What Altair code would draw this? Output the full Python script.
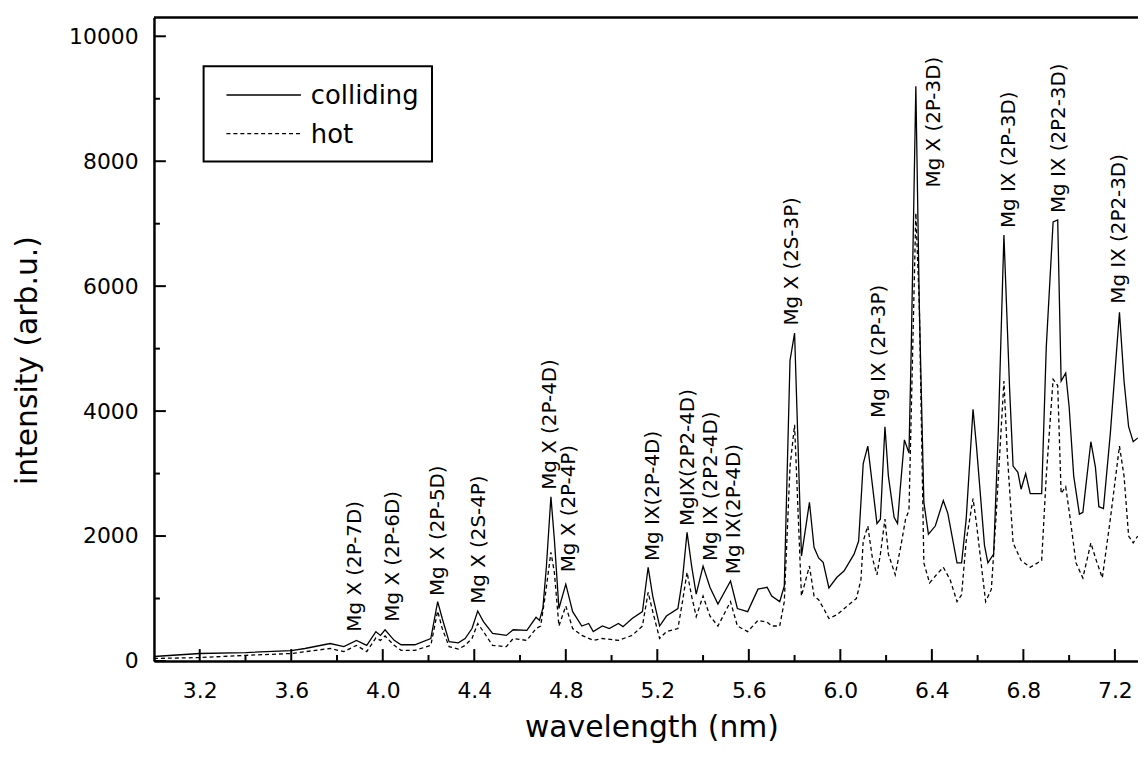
import altair as alt
import pandas as pd

# ---------------- data ----------------
wl_colliding = [3.00, 3.20, 3.40, 3.60, 3.66, 3.77, 3.83, 3.885, 3.93, 3.97, 3.99, 4.01, 4.05, 4.08,
                4.14, 4.21, 4.24, 4.26, 4.29, 4.33, 4.36, 4.39, 4.415, 4.44, 4.48, 4.54, 4.57, 4.63,
                4.67, 4.685, 4.70, 4.715, 4.735, 4.75, 4.77, 4.80, 4.83, 4.87, 4.90, 4.92, 4.96, 4.99,
                5.03, 5.05, 5.09, 5.135, 5.16, 5.18, 5.21, 5.24, 5.29, 5.31, 5.33, 5.35, 5.37, 5.40,
                5.43, 5.465, 5.52, 5.55, 5.595, 5.64, 5.68, 5.70, 5.735, 5.755, 5.78, 5.80, 5.83,
                5.865, 5.885, 5.905, 5.925, 5.95, 5.985, 6.016, 6.06, 6.08, 6.10, 6.12, 6.14, 6.16,
                6.175, 6.195, 6.21, 6.235, 6.25, 6.26, 6.28, 6.30, 6.31, 6.33, 6.345, 6.365, 6.385,
                6.415, 6.45, 6.47, 6.51, 6.53, 6.55, 6.58, 6.595, 6.63, 6.645, 6.67, 6.69, 6.715,
                6.74, 6.755, 6.776, 6.79, 6.81, 6.83, 6.88, 6.90, 6.93, 6.95, 6.965, 6.985, 7.00,
                7.02, 7.045, 7.06, 7.095, 7.115, 7.13, 7.15, 7.18, 7.22, 7.24, 7.26, 7.28, 7.30]
colliding = [72, 120, 135, 167, 200, 280, 230, 330, 250, 470, 410, 500, 330, 260,
             260, 360, 950, 680, 310, 290, 360, 520, 800, 630, 440, 410, 500, 490,
             700, 650, 850, 1500, 2630, 1950, 840, 1230, 790, 560, 600, 470, 560, 520,
             600, 550, 680, 790, 1500, 1040, 560, 720, 840, 1310, 2060, 1520, 1070, 1520,
             1180, 910, 1280, 840, 790, 1150, 1180, 1040, 950, 1200, 4810, 5250, 1680,
             2540, 1820, 1650, 1580, 1170, 1340, 1440, 1710, 1920, 3160, 3440, 2820, 2200,
             2270, 3750, 2960, 2300, 2200, 2680, 3540, 3330, 5020, 9200, 5720, 2540, 2030,
             2160, 2570, 2360, 1570, 1570, 2270, 4030, 3440, 1850, 1570, 1710, 3640, 6820,
             4340, 3120, 3020, 2750, 3000, 2680, 2680, 5020, 7030, 7060, 4480, 4610, 4070,
             2960, 2350, 2380, 3510, 3100, 2470, 2440, 3640, 5580, 4480, 3750, 3510, 3570]

wl_hot = [3.00, 3.20, 3.40, 3.60, 3.77, 3.83, 3.885, 3.93, 3.97, 3.99, 4.01, 4.05, 4.08, 4.14,
          4.21, 4.24, 4.26, 4.29, 4.33, 4.36, 4.39, 4.415, 4.44, 4.48, 4.54, 4.57, 4.63, 4.67,
          4.69, 4.71, 4.735, 4.75, 4.77, 4.80, 4.83, 4.87, 4.92, 4.96, 5.03, 5.09, 5.135, 5.16,
          5.18, 5.21, 5.24, 5.29, 5.31, 5.33, 5.35, 5.37, 5.40, 5.43, 5.465, 5.52, 5.55, 5.595,
          5.64, 5.68, 5.70, 5.735, 5.755, 5.78, 5.80, 5.83, 5.865, 5.885, 5.905, 5.93, 5.95,
          5.985, 6.03, 6.07, 6.09, 6.10, 6.12, 6.14, 6.16, 6.175, 6.195, 6.21, 6.24, 6.265,
          6.285, 6.30, 6.31, 6.33, 6.345, 6.365, 6.39, 6.42, 6.45, 6.48, 6.51, 6.53, 6.55,
          6.58, 6.595, 6.635, 6.66, 6.68, 6.715, 6.73, 6.755, 6.79, 6.83, 6.88, 6.90, 6.93,
          6.95, 6.965, 6.985, 7.005, 7.03, 7.06, 7.095, 7.115, 7.145, 7.18, 7.22, 7.24, 7.26,
          7.28, 7.30]
hot = [40, 55, 90, 120, 200, 150, 250, 150, 370, 330, 400, 250, 170, 170,
       250, 800, 520, 230, 190, 250, 360, 600, 470, 250, 230, 360, 330, 520,
       560, 1040, 1740, 1420, 560, 880, 520, 410, 330, 360, 330, 410, 560, 1100,
       790, 360, 470, 520, 950, 1420, 1040, 710, 1040, 720, 560, 950, 560, 470,
       650, 620, 560, 560, 950, 3110, 3780, 1040, 1520, 1040, 980, 820, 680,
       740, 880, 1000, 1300, 1920, 2160, 1650, 1380, 1710, 2270, 1710, 1380, 1850,
       2270, 2410, 3990, 7170, 5720, 1570, 1250, 1380, 1500, 1300, 950, 1060, 1920,
       2600, 2200, 950, 1150, 2270, 4480, 3300, 1890, 1610, 1500, 1610, 2960, 4510,
       4410, 2680, 2790, 2270, 1570, 1330, 1890, 1650, 1330, 2270, 3440, 2960, 2000,
       1890, 2000]

peak_labels = ["Mg X (2P-7D)", "Mg X (2P-6D)", "Mg X (2P-5D)", "Mg X (2S-4P)", "Mg X (2P-4D)",
               "Mg X (2P-4P)", "Mg IX(2P-4D)", "MgIX(2P2-4D)", "Mg IX (2P2-4D)", "Mg IX(2P-4D)",
               "Mg X (2S-3P)", "Mg IX (2P-3P)", "Mg X (2P-3D)", "Mg IX (2P-3D)", "Mg IX (2P2-3D)",
               "Mg IX (2P2-3D)"]
peak_wl = [3.881, 4.045, 4.24, 4.42, 4.73, 4.815, 5.18, 5.335, 5.435, 5.535,
           5.79, 6.17, 6.41, 6.737, 6.954, 7.217]
peak_base = [470, 630, 1040, 915, 2740, 1420, 1600, 2160, 1600, 1390,
             5370, 3890, 7580, 6930, 7170, 5720]

series_names = ["colliding", "hot"]

x_major = [3.2, 3.6, 4.0, 4.4, 4.8, 5.2, 5.6, 6.0, 6.4, 6.8, 7.2]
x_minor = [3.4, 3.8, 4.2, 4.6, 5.0, 5.4, 5.8, 6.2, 6.6, 7.0]
y_major = [0, 2000, 4000, 6000, 8000, 10000]
y_minor = [1000, 3000, 5000, 7000, 9000]

X_DOMAIN = [3.0, 7.301]
Y_DOMAIN = [0, 10300]

# ---------------- chart ----------------
W, H = 991, 648
FONT = "DejaVu Sans"
MAJOR, MINOR = 12, 6

df_c = pd.DataFrame({"wl": wl_colliding, "val": colliding})
df_h = pd.DataFrame({"wl": wl_hot, "val": hot})
df_p = pd.DataFrame({"wl": peak_wl, "val": peak_base, "label": peak_labels})

xs = alt.Scale(domain=X_DOMAIN, nice=False, zero=False)
ys = alt.Scale(domain=Y_DOMAIN, nice=False, zero=False)

common_axis = dict(grid=False, domain=True, domainColor="black", domainWidth=2.5, ticks=False,
                   labelColor="black", labelFont=FONT, labelFontSize=22,
                   titleColor="black", titleFont=FONT, titleFontSize=30,
                   titleFontWeight="normal", labelOverlap=False, labelFlush=False)

x_axis = alt.Axis(values=x_major, format=".1f", orient="bottom", labelPadding=20,
                  title="wavelength (nm)", titleX=501, titleY=76,
                  titleBaseline="alphabetic", titleAlign="center", **common_axis)
y_axis = alt.Axis(values=y_major, format="d", orient="left", labelPadding=16,
                  title="intensity (arb.u.)", titleX=-118, titleY=345,
                  titleAngle=270, titleBaseline="alphabetic", titleAlign="center",
                  **common_axis)


def X(field):
    return alt.X(field, type="quantitative", scale=xs, axis=x_axis)


def Y(field):
    return alt.Y(field, type="quantitative", scale=ys, axis=y_axis)


line_h = alt.Chart(df_h).mark_line(color="black", strokeWidth=1.3, strokeDash=[4, 3]).encode(
    x=X("wl"), y=Y("val"))
line_c = alt.Chart(df_c).mark_line(color="black", strokeWidth=1.3).encode(
    x=X("wl"), y=Y("val"))
labels = alt.Chart(df_p).mark_text(angle=270, align="left", baseline="middle",
                                   font=FONT, fontSize=20, color="black").encode(
    x=X("wl"), y=Y("val"), text="label:N")

# inward-pointing ticks drawn from the tick value lists through the scales
xt_major = alt.Chart(pd.DataFrame({"tx": x_major})).mark_tick(
    color="#000000", thickness=2, size=MAJOR, orient="vertical", opacity=1).encode(
    x=X("tx"), y=alt.value(H - MAJOR / 2))
xt_minor = alt.Chart(pd.DataFrame({"tx": x_minor})).mark_tick(
    color="#000000", thickness=2, size=MINOR, orient="vertical", opacity=1).encode(
    x=X("tx"), y=alt.value(H - MINOR / 2))
yt_major = alt.Chart(pd.DataFrame({"ty": y_major})).mark_tick(
    color="#000000", thickness=2, size=MAJOR, orient="horizontal", opacity=1).encode(
    y=Y("ty"), x=alt.value(MAJOR / 2))
yt_minor = alt.Chart(pd.DataFrame({"ty": y_minor})).mark_tick(
    color="#000000", thickness=2, size=MINOR, orient="horizontal", opacity=1).encode(
    y=Y("ty"), x=alt.value(MINOR / 2))

one = pd.DataFrame({"k": [0]})
top_frame = alt.Chart(one).mark_rule(color="black", strokeWidth=2.5).encode(
    x=alt.value(0), x2=alt.value(W), y=alt.value(0))

# legend (drawn by hand)
leg_box = alt.Chart(one).mark_rect(fill="white", stroke="black", strokeWidth=2).encode(
    x=alt.value(50), x2=alt.value(280), y=alt.value(49), y2=alt.value(145))
leg_c_line = alt.Chart(pd.DataFrame({"s": [series_names[0]]})).mark_rule(
    color="black", strokeWidth=1.3).encode(x=alt.value(73), x2=alt.value(148), y=alt.value(78))
leg_h_line = alt.Chart(pd.DataFrame({"s": [series_names[1]]})).mark_rule(
    color="black", strokeWidth=1.3, strokeDash=[4, 3]).encode(
    x=alt.value(73), x2=alt.value(148), y=alt.value(117))
leg_c_text = alt.Chart(pd.DataFrame({"s": [series_names[0]]})).mark_text(
    align="left", baseline="middle", font=FONT, fontSize=26, color="black").encode(
    x=alt.value(158), y=alt.value(79), text="s:N")
leg_h_text = alt.Chart(pd.DataFrame({"s": [series_names[1]]})).mark_text(
    align="left", baseline="middle", font=FONT, fontSize=26, color="black").encode(
    x=alt.value(158), y=alt.value(118), text="s:N")

chart = alt.layer(
    line_h, line_c, labels, xt_major, xt_minor, yt_major, yt_minor, top_frame,
    leg_box, leg_c_line, leg_h_line, leg_c_text, leg_h_text,
).properties(
    width=W, height=H,
    autosize=alt.AutoSizeParams(type="none"),
    padding={"left": 147, "top": 7, "right": 0, "bottom": 83},
    background="white",
).configure_view(stroke=None)

chart.save("out.html", embed_options={"renderer": "svg", "actions": False})
